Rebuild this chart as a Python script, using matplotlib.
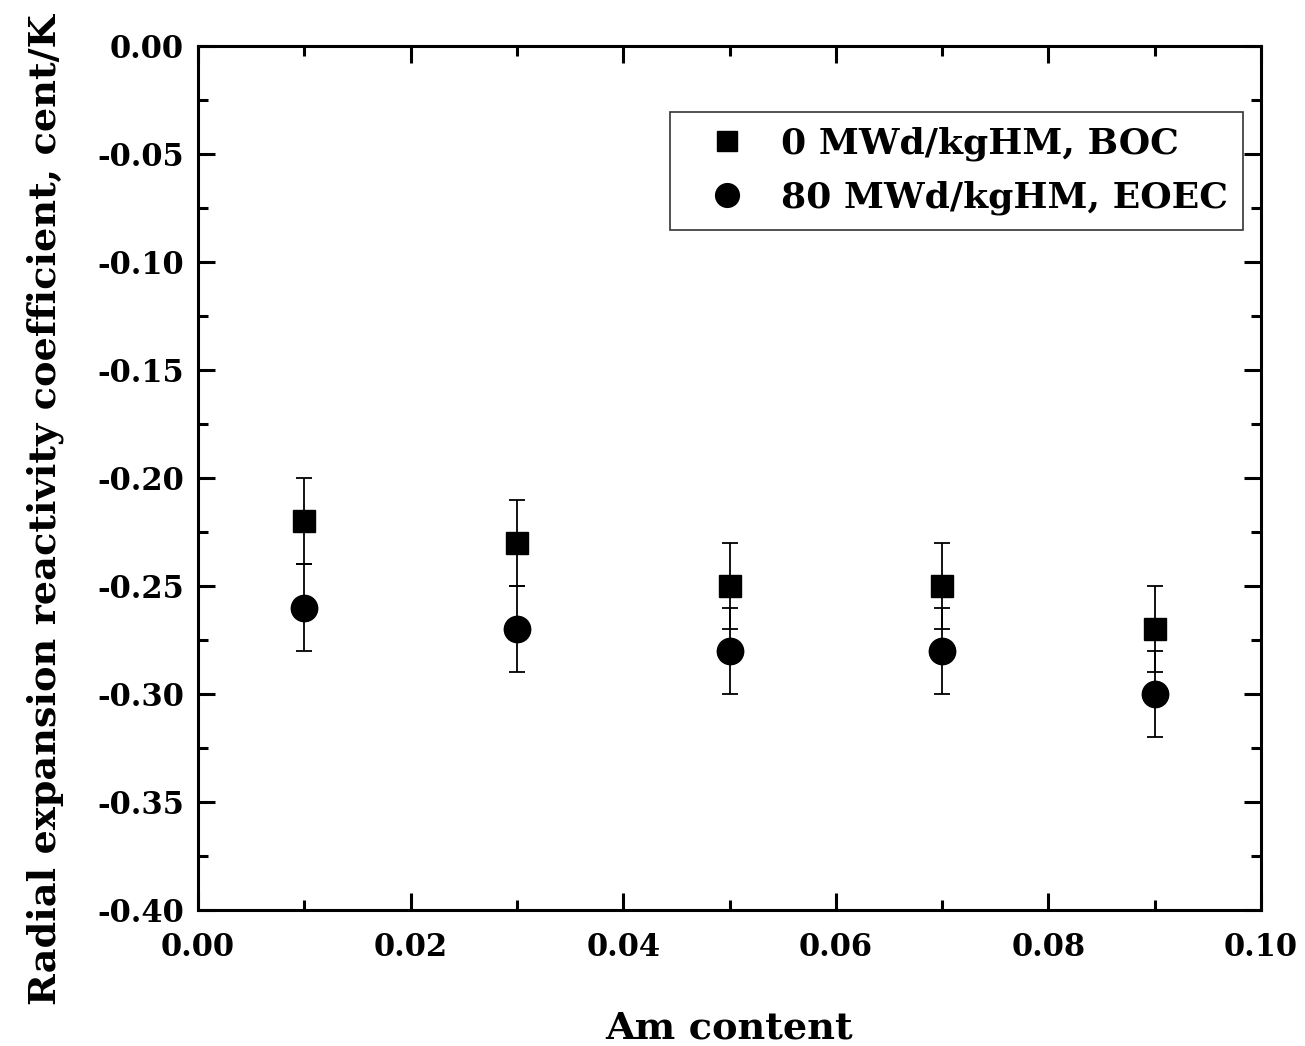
#Radial expansion reactivity coefficient vs Am content

import matplotlib.pyplot as plt
from matplotlib.ticker import MultipleLocator

am_content = [0.01, 0.03, 0.05, 0.07, 0.09]
boc_values = [-0.22, -0.23, -0.25, -0.25, -0.27]
eoec_values = [-0.26, -0.27, -0.28, -0.28, -0.30]
boc_err = [0.02, 0.02, 0.02, 0.02, 0.02]
eoec_err = [0.02, 0.02, 0.02, 0.02, 0.02]

labels = ["0 MWd/kgHM, BOC", "80 MWd/kgHM, EOEC"]

plt.rcParams['font.family'] = ['DejaVu Serif']
plt.rcParams['font.weight'] = 'bold'
plt.rcParams['axes.unicode_minus'] = False

fig = plt.figure(figsize=(13.05, 10.46), dpi=100)
ax = fig.add_axes([198 / 1305, 1 - 910 / 1046, 1063 / 1305, 864 / 1046])

ax.errorbar(am_content, boc_values, yerr=boc_err, fmt='s', color='black',
            markersize=16, elinewidth=1.3, capsize=6, capthick=1.3, label=labels[0])
ax.errorbar(am_content, eoec_values, yerr=eoec_err, fmt='o', color='black',
            markersize=19, elinewidth=1.3, capsize=6, capthick=1.3, label=labels[1])

ax.set_xlim(0, 0.10)
ax.set_ylim(-0.40, 0.00)
ax.xaxis.set_major_locator(MultipleLocator(0.02))
ax.xaxis.set_minor_locator(MultipleLocator(0.01))
ax.yaxis.set_major_locator(MultipleLocator(0.05))
ax.yaxis.set_minor_locator(MultipleLocator(0.025))

ax.tick_params(which='both', direction='in', top=True, right=True, width=2.2)
ax.tick_params(which='major', length=12, labelsize=22)
ax.tick_params(axis='x', which='major', pad=16)
ax.tick_params(axis='y', which='major', pad=10)
ax.tick_params(which='minor', length=7)
for s in ax.spines.values():
    s.set_linewidth(2.2)
for lab in ax.get_xticklabels() + ax.get_yticklabels():
    lab.set_fontweight('bold')

ax.set_xlabel("Am content", fontsize=27.5, fontweight='bold')
ax.set_ylabel("Radial expansion reactivity coefficient, cent/K", fontsize=27.5,
              fontweight='bold')
ax.xaxis.set_label_coords(0.5, -118 / 864, transform=ax.transAxes)
ax.yaxis.set_label_coords(-153 / 1063, (910 - 510) / 864, transform=ax.transAxes)
ax.xaxis.label.set_va('center')
ax.yaxis.label.set_va('center')

handles, labs = ax.get_legend_handles_labels()
handles = [h[0] for h in handles]
leg = ax.legend(handles, labs, loc='upper right', bbox_to_anchor=(0.983, 0.9236),
                fontsize=26, frameon=True, fancybox=False, edgecolor='black',
                markerscale=0.9, handlelength=2.4, handletextpad=0.3,
                borderpad=0.4, labelspacing=0.55, borderaxespad=0)
leg.get_frame().set_linewidth(1.2)

fig.savefig("out.png", dpi=100)
